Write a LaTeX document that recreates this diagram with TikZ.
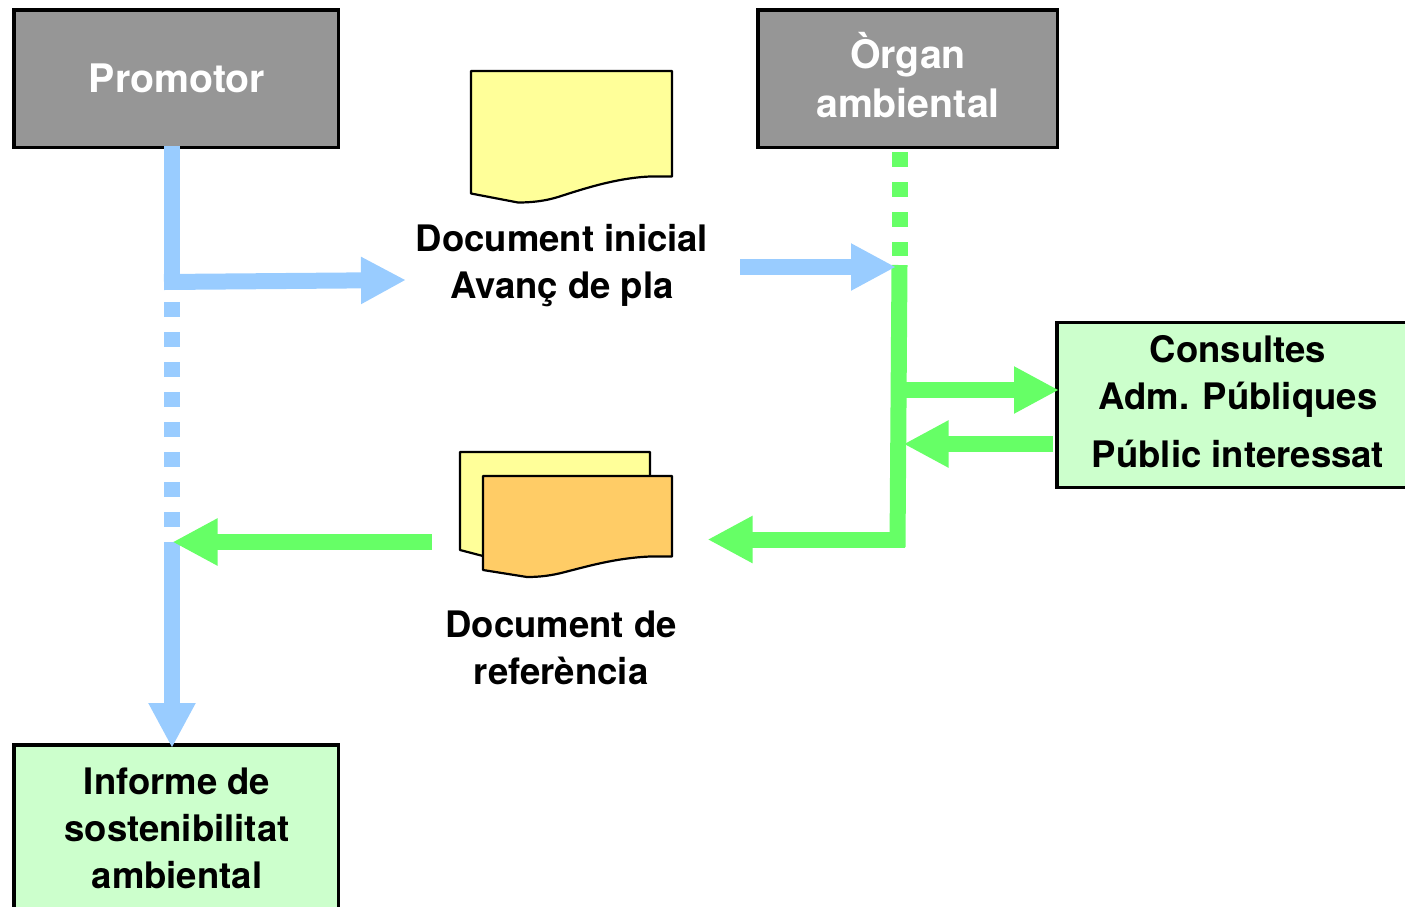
\documentclass[tikz,border=0pt]{standalone}
\usepackage{fontspec}
\setmainfont{TeX Gyre Heros}
\usetikzlibrary{arrows.meta}
\definecolor{boxgray}{HTML}{969696}
\definecolor{boxgreen}{HTML}{CCFFCC}
\definecolor{lineblue}{HTML}{99CCFF}
\definecolor{linegreen}{HTML}{66FF66}
\definecolor{docyellow}{HTML}{FFFF99}
\definecolor{docorange}{HTML}{FFCC66}
\tikzset{
  x=1pt,y=-1pt,
  box/.style={draw=black,line width=3.4pt,inner sep=0pt,outer sep=0pt,anchor=north west},
  graybox/.style={box,fill=boxgray},
  greenbox/.style={box,fill=boxgreen},
  txt/.style={font=\fontsize{36.5}{47}\selectfont\bfseries,align=center,inner sep=0pt,text=black},
  whitetxt/.style={txt,font=\fontsize{39.3}{47}\selectfont\bfseries,text=white},
  docshape/.style={draw=black,line width=2.2pt,line join=round},
  conn/.style={line width=16pt},
  connhead/.style={conn,-{Triangle[length=45pt,width=44pt]}},
  dots/.style={conn,dash pattern=on 15pt off 15pt},
}
\begin{document}
\begin{tikzpicture}
\useasboundingbox (0,0) rectangle (1405,906);
\clip (0,0) rectangle (1405,906);
% boxes
\node[graybox,minimum width=324.5pt,minimum height=137.5pt] (promotor) at (14,10) {};
\node[graybox,minimum width=299.5pt,minimum height=137.5pt] (organ) at (758,10) {};
\node[greenbox,minimum width=362pt,minimum height=165pt] (consultes) at (1057,322.5) {};
\node[greenbox,minimum width=324.5pt,minimum height=175pt] (informe) at (14,745) {};
% texts
\node[whitetxt] (tpromotor) at (177,78.5) {Promotor};
\node[whitetxt] (torgan) at (908,75) {Òrgan\\[1.5pt]ambiental};
\node[txt] (tconsultes) at (1238,401.5) {Consultes\\Adm. Públiques\\[11pt]Públic interessat};
\node[txt] (tinforme) at (177,828) {Informe de\\sostenibilitat\\ambiental};
\node[txt] (tinicial) at (562,265.5) {Document inicial\\Avanç de pla};
\node[txt] (treferencia) at (561,647.5) {Document de\\referència};
% documents
\draw[docshape,fill=docyellow] (471,71) -- (672,71) -- (672,176.5) -- (650,176.5)
  .. controls (615,178) and (580,190) .. (558,197)
  .. controls (545,201) and (532,202.5) .. (518,202.5)
  -- (471,193.5) -- cycle;
\draw[docshape,fill=docyellow] (460,452) -- (650,452) -- (650,520) -- (600,556) -- (483,556) -- (460,550) -- cycle;
\draw[docshape,fill=docorange] (483,476) -- (672,476) -- (672,556.5) -- (650,556.5)
  .. controls (615,558) and (585,567) .. (565,572)
  .. controls (552,575.5) and (540,577) .. (527,577)
  -- (483,570) -- cycle;
% connector points
\coordinate (bA) at (172,146);
\coordinate (bB) at (172,282);
\coordinate (bC) at (406,280);
\coordinate (bD) at (172,302);
\coordinate (bE) at (172,527);
\coordinate (bF) at (172,542);
\coordinate (bG) at (172,748);
\coordinate (bH) at (740,267);
\coordinate (bI) at (896,267);
\coordinate (gA) at (899.5,152);
\coordinate (gB) at (899.5,256);
\coordinate (gC) at (899.5,265);
\coordinate (gD) at (897.5,547);
\coordinate (gE) at (707.5,539.5);
\coordinate (gF) at (898,390);
\coordinate (gG) at (1059,390);
\coordinate (gH) at (1053,444);
\coordinate (gI) at (903.5,444);
\coordinate (gJ) at (432,542);
\coordinate (gK) at (172.5,542);
% green connectors
\draw[dots,linegreen] (gA) -- (gB);
\draw[conn,linegreen] (gC) -- (gD);
\draw[connhead,linegreen] (905,539.5) -- (gE);
\draw[connhead,linegreen] (gF) -- (gG);
\draw[connhead,linegreen] (gH) -- (gI);
% blue connectors
\draw[conn,lineblue] (bA) -- (bB);
\draw[connhead,lineblue] (164,282) -- (bC);
\draw[dots,lineblue] (bD) -- (bE);
\draw[connhead,lineblue] (bF) -- (bG);
\draw[connhead,lineblue] (bH) -- (bI);
\draw[connhead,linegreen] (gJ) -- (gK);
\end{tikzpicture}
\end{document}
